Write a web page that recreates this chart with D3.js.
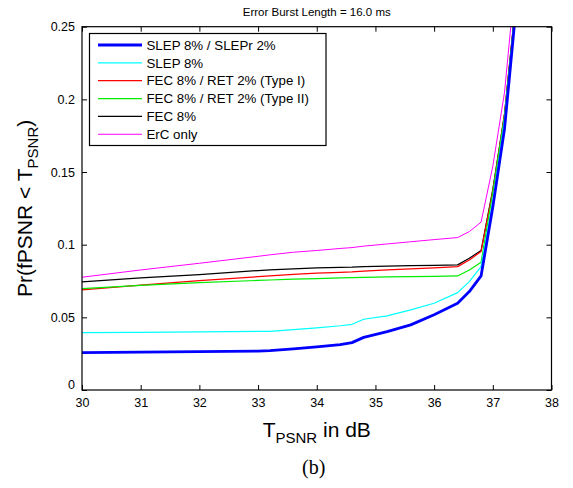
<!DOCTYPE html>
<html><head><meta charset="utf-8">
<script src="https://cdn.jsdelivr.net/npm/d3@7"></script>
<style>body{margin:0;background:#fff}svg{display:block}</style>
</head><body><svg id="c" width="573" height="488"></svg>
<script>
const xs = [30,31,32,33,33.2,33.6,34,34.4,34.6,34.8,35.2,35.6,36,36.4,36.6,36.8,37,37.2,37.4];
const slepSlepr = [0.0257,0.0260,0.0264,0.0268,0.0271,0.0283,0.0297,0.0312,0.0326,0.0362,0.0402,0.0448,0.0518,0.0597,0.0677,0.0785,0.126,0.18,0.265];
const slep = [0.0395,0.0397,0.0400,0.0403,0.0404,0.0415,0.0428,0.0442,0.0452,0.0487,0.0510,0.0551,0.0597,0.0670,0.0746,0.0849,0.130,0.186,0.268];
const fecRet1 = [0.0689,0.0722,0.0753,0.0780,0.0785,0.0796,0.0804,0.0810,0.0813,0.0818,0.0826,0.0834,0.0841,0.0849,0.0895,0.0953,0.137,0.19,0.271];
const fecRet2 = [0.0698,0.0720,0.0739,0.0754,0.0757,0.0763,0.0767,0.0771,0.0773,0.0775,0.0778,0.0780,0.0782,0.0785,0.0826,0.0879,0.136,0.189,0.27];
const fec = [0.0744,0.0771,0.0794,0.0822,0.0826,0.0834,0.0840,0.0844,0.0845,0.0849,0.0853,0.0856,0.0858,0.0861,0.0907,0.0960,0.138,0.19,0.27];
const ercOnly = [0.0776,0.0826,0.0872,0.0920,0.0930,0.0948,0.0960,0.0974,0.0980,0.0990,0.1005,0.1020,0.1035,0.1049,0.1090,0.1155,0.154,0.205,0.29];
const seriesNames = ["SLEP 8% / SLEPr 2%","SLEP 8%","FEC 8% / RET 2% (Type I)","FEC 8% / RET 2% (Type II)","FEC 8%","ErC only"];
const xTicks = [30,31,32,33,34,35,36,37,38];
const yTicks = [0,0.05,0.1,0.15,0.2,0.25];
const yTickLabels = ["0","0.05","0.1","0.15","0.2","0.25"];

const colors = ["#0000ff","#00ffff","#ff0000","#00ee00","#000000","#ff00ff"];
const widths = [2.8,1.2,1.2,1.2,1.2,1.0];
const allSeries = [slepSlepr, slep, fecRet1, fecRet2, fec, ercOnly];

const svg = d3.select("#c");
const L=82, R=551.5, T=26.7, B=390;
const x = d3.scaleLinear().domain([30,38]).range([L,R]);
const y = d3.scaleLinear().domain([0,0.25]).range([B,T]);
const font = "'Liberation Sans', Arial, Helvetica, sans-serif";

svg.append("defs").append("clipPath").attr("id","clip")
  .append("rect").attr("x",L).attr("y",T).attr("width",R-L).attr("height",B-T);

// axes with inward ticks
const tl = 5;
const gB = svg.append("g").attr("transform",`translate(0,${B})`)
  .call(d3.axisBottom(x).tickValues(xTicks).tickSize(-tl).tickPadding(9).tickFormat(d3.format("d")));
const gT = svg.append("g").attr("transform",`translate(0,${T})`)
  .call(d3.axisTop(x).tickValues(xTicks).tickSize(-tl).tickFormat(""));
const gL = svg.append("g").attr("transform",`translate(${L},0)`)
  .call(d3.axisLeft(y).tickValues(yTicks).tickSize(-tl).tickPadding(7).tickFormat((d,i)=>yTickLabels[i]));
const gR = svg.append("g").attr("transform",`translate(${R},0)`)
  .call(d3.axisRight(y).tickValues(yTicks).tickSize(-tl).tickFormat(""));
[gB,gT,gL,gR].forEach(g=>{
  g.select(".domain").remove();
  g.selectAll("line").attr("stroke","#000").attr("stroke-width",1);
  g.selectAll("text").attr("font-family",font).attr("font-size",12.5).attr("fill","#000");
});
gL.selectAll(".tick").filter(d=>d===0).select("text").attr("dy","-0.1em");
gB.selectAll(".tick text").attr("dy","0.6em");

// curves
const line = d3.line().x((d,i)=>x(xs[i])).y(d=>y(d));
const gc = svg.append("g").attr("clip-path","url(#clip)");
[5,4,2,3,1,0].forEach(k=>{
  gc.append("path").datum(allSeries[k]).attr("d",line)
    .attr("fill","none").attr("stroke",colors[k]).attr("stroke-width",widths[k])
    .attr("stroke-linejoin","round");
});

// frame
svg.append("rect").attr("x",L).attr("y",T).attr("width",R-L).attr("height",B-T)
  .attr("fill","none").attr("stroke","#000").attr("stroke-width",1.2);

// legend
const lg = svg.append("g");
lg.append("rect").attr("x",89.5).attr("y",33.5).attr("width",236.5).attr("height",112)
  .attr("fill","#fff").attr("stroke","#000").attr("stroke-width",1.2);
seriesNames.forEach((n,i)=>{
  const yy = 45 + i*17.85;
  lg.append("line").attr("x1",98).attr("x2",142).attr("y1",yy).attr("y2",yy)
    .attr("stroke",colors[i]).attr("stroke-width",widths[i]);
  lg.append("text").attr("x",146.5).attr("y",yy).attr("dy","0.36em")
    .attr("font-family",font).attr("font-size",13.3).text(n);
});

// title
svg.append("text").attr("x",(L+R)/2).attr("y",16).attr("text-anchor","middle")
  .attr("font-family",font).attr("font-size",11.5).text("Error Burst Length = 16.0 ms");

// x label
const xl = svg.append("text").attr("x",(L+R)/2).attr("y",437).attr("text-anchor","middle")
  .attr("font-family",font).attr("font-size",21);
xl.append("tspan").text("T");
xl.append("tspan").attr("font-size",15).attr("dy",6).text("PSNR");
xl.append("tspan").attr("dy",-6).text(" in dB");

// y label
const yl = svg.append("text").attr("transform",`translate(32,${(T+B)/2}) rotate(-90)`)
  .attr("text-anchor","middle").attr("font-family",font).attr("font-size",21);
yl.append("tspan").text("Pr(fPSNR < T");
yl.append("tspan").attr("font-size",15).attr("dy",6).text("PSNR");
yl.append("tspan").attr("dy",-6).text(")");

// caption
svg.append("text").attr("x",(L+R)/2-3).attr("y",474).attr("text-anchor","middle")
  .attr("font-family","'Liberation Serif', 'Times New Roman', serif").attr("font-size",20).text("(b)");
</script></body></html>
